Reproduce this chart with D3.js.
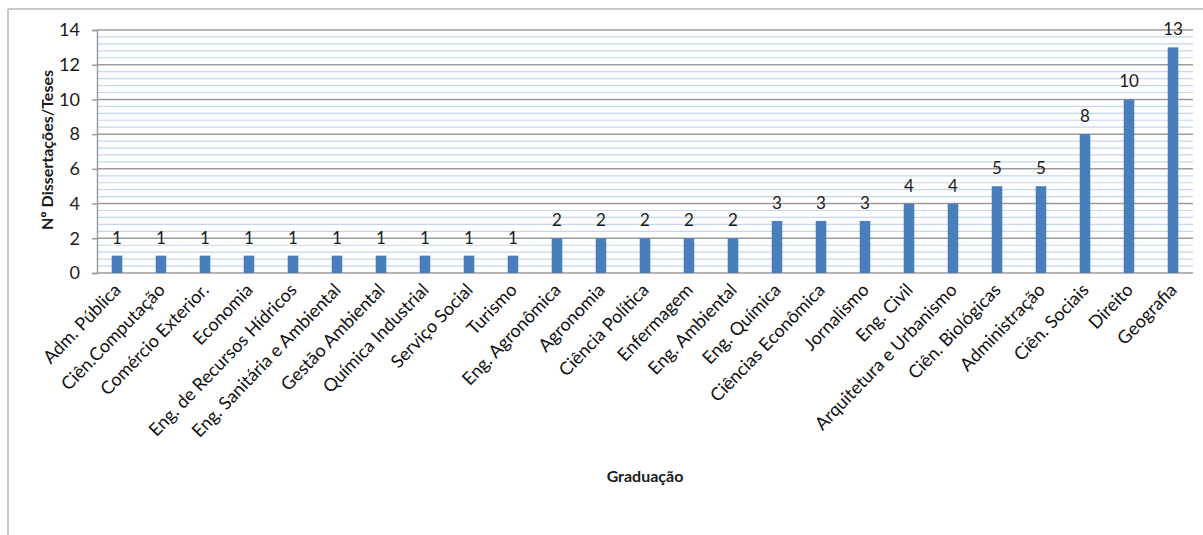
<!DOCTYPE html>
<html>
<head>
<meta charset="utf-8">
<script src="https://cdn.jsdelivr.net/npm/d3@7"></script>
<style>
  html, body { margin: 0; padding: 0; background: #fff; }
  svg { display: block; }
  text { font-family: Lato, "Open Sans", sans-serif; }
</style>
</head>
<body>
<svg id="chart" width="1203" height="535"></svg>
<script>
// Courses (undergraduate background) and number of dissertations/theses
const categories = [
  "Adm. Pública", "Ciên.Computação", "Comércio Exterior.", "Economia",
  "Eng. de Recursos Hídricos", "Eng. Sanitária e Ambiental", "Gestão Ambiental",
  "Química Industrial", "Serviço Social", "Turismo", "Eng. Agronômica",
  "Agronomia", "Ciência Política", "Enfermagem", "Eng. Ambiental", "Eng. Química",
  "Ciências Econômica", "Jornalismo", "Eng. Civil", "Arquitetura e Urbanismo",
  "Ciên. Biológicas", "Administração", "Ciên. Sociais", "Direito", "Geografia"
];
const values = [1, 1, 1, 1, 1, 1, 1, 1, 1, 1, 2, 2, 2, 2, 2, 3, 3, 3, 4, 4, 5, 5, 8, 10, 13];
const yTicks = [0, 2, 4, 6, 8, 10, 12, 14];
const yTitle = "Nº Dissertações/Teses";
const xTitle = "Graduação";

const svg = d3.select("#chart");

// frame of the chart object
svg.append("line").attr("x1", 8).attr("x2", 1203).attr("y1", 9).attr("y2", 9)
  .attr("stroke", "#c8c8c8").attr("stroke-width", 2);
svg.append("line").attr("x1", 8).attr("x2", 8).attr("y1", 9).attr("y2", 535)
  .attr("stroke", "#c8c8c8").attr("stroke-width", 2);

const x = d3.scaleBand().domain(categories).range([95, 1195]).paddingInner(0.76).paddingOuter(0.38);
const y = d3.scaleLinear().domain([0, 14]).range([273, 30]);
const plotLeft = 97, plotRight = 1193;

// minor gridlines
const minor = d3.range(0, 14.001, 0.4).filter(v => Math.abs(v / 2 - Math.round(v / 2)) > 1e-6);
svg.append("g").selectAll("line").data(minor).join("line")
  .attr("x1", plotLeft).attr("x2", plotRight)
  .attr("y1", d => y(d)).attr("y2", d => y(d))
  .attr("stroke", "#c5d6ee").attr("stroke-width", 1.2);

// major gridlines
svg.append("g").selectAll("line").data(yTicks.slice(1)).join("line")
  .attr("x1", plotLeft).attr("x2", plotRight)
  .attr("y1", d => y(d)).attr("y2", d => y(d))
  .attr("stroke", "#9c9c9c").attr("stroke-width", 1.5);

// y axis
const yAxis = svg.append("g").attr("transform", `translate(${plotLeft},0)`)
  .call(d3.axisLeft(y).tickValues(yTicks).tickSize(5).tickPadding(12));
yAxis.select(".domain").attr("stroke", "#9c9c9c").attr("stroke-width", 1.5);
yAxis.selectAll(".tick line").attr("stroke", "#9c9c9c").attr("stroke-width", 1.5);
yAxis.selectAll(".tick text").attr("font-size", 18).attr("fill", "#1a1a1a")
  .attr("font-family", "Lato, sans-serif");

// x axis baseline
svg.append("line").attr("x1", plotLeft).attr("x2", plotRight)
  .attr("y1", y(0)).attr("y2", y(0)).attr("stroke", "#9c9c9c").attr("stroke-width", 1.5);

// bars
svg.append("g").selectAll("rect").data(values).join("rect")
  .attr("x", (d, i) => x(categories[i]))
  .attr("width", x.bandwidth())
  .attr("y", d => y(d))
  .attr("height", d => y(0) - y(d))
  .attr("fill", "#4a7ebb");

// value labels
svg.append("g").selectAll("text").data(values).join("text")
  .attr("x", (d, i) => x(categories[i]) + x.bandwidth() / 2)
  .attr("y", d => y(d) - 12)
  .attr("text-anchor", "middle")
  .attr("font-size", 17).attr("fill", "#1a1a1a")
  .text(d => d);

// category labels, rotated
svg.append("g").selectAll("text").data(categories).join("text")
  .attr("transform", d => `translate(${x(d) + x.bandwidth() / 2 + 5},${291}) rotate(-46)`)
  .attr("text-anchor", "end")
  .attr("font-size", 18).attr("fill", "#111")
  .text(d => d);

// axis titles
svg.append("text")
  .attr("transform", `translate(53,150) rotate(-90)`)
  .attr("text-anchor", "middle")
  .attr("font-size", 16).attr("font-weight", "bold").attr("fill", "#1a1a1a")
  .text(yTitle);

svg.append("text")
  .attr("x", 645).attr("y", 482)
  .attr("text-anchor", "middle")
  .attr("font-size", 16).attr("font-weight", "bold").attr("fill", "#1a1a1a")
  .text(xTitle);
</script>
</body>
</html>
